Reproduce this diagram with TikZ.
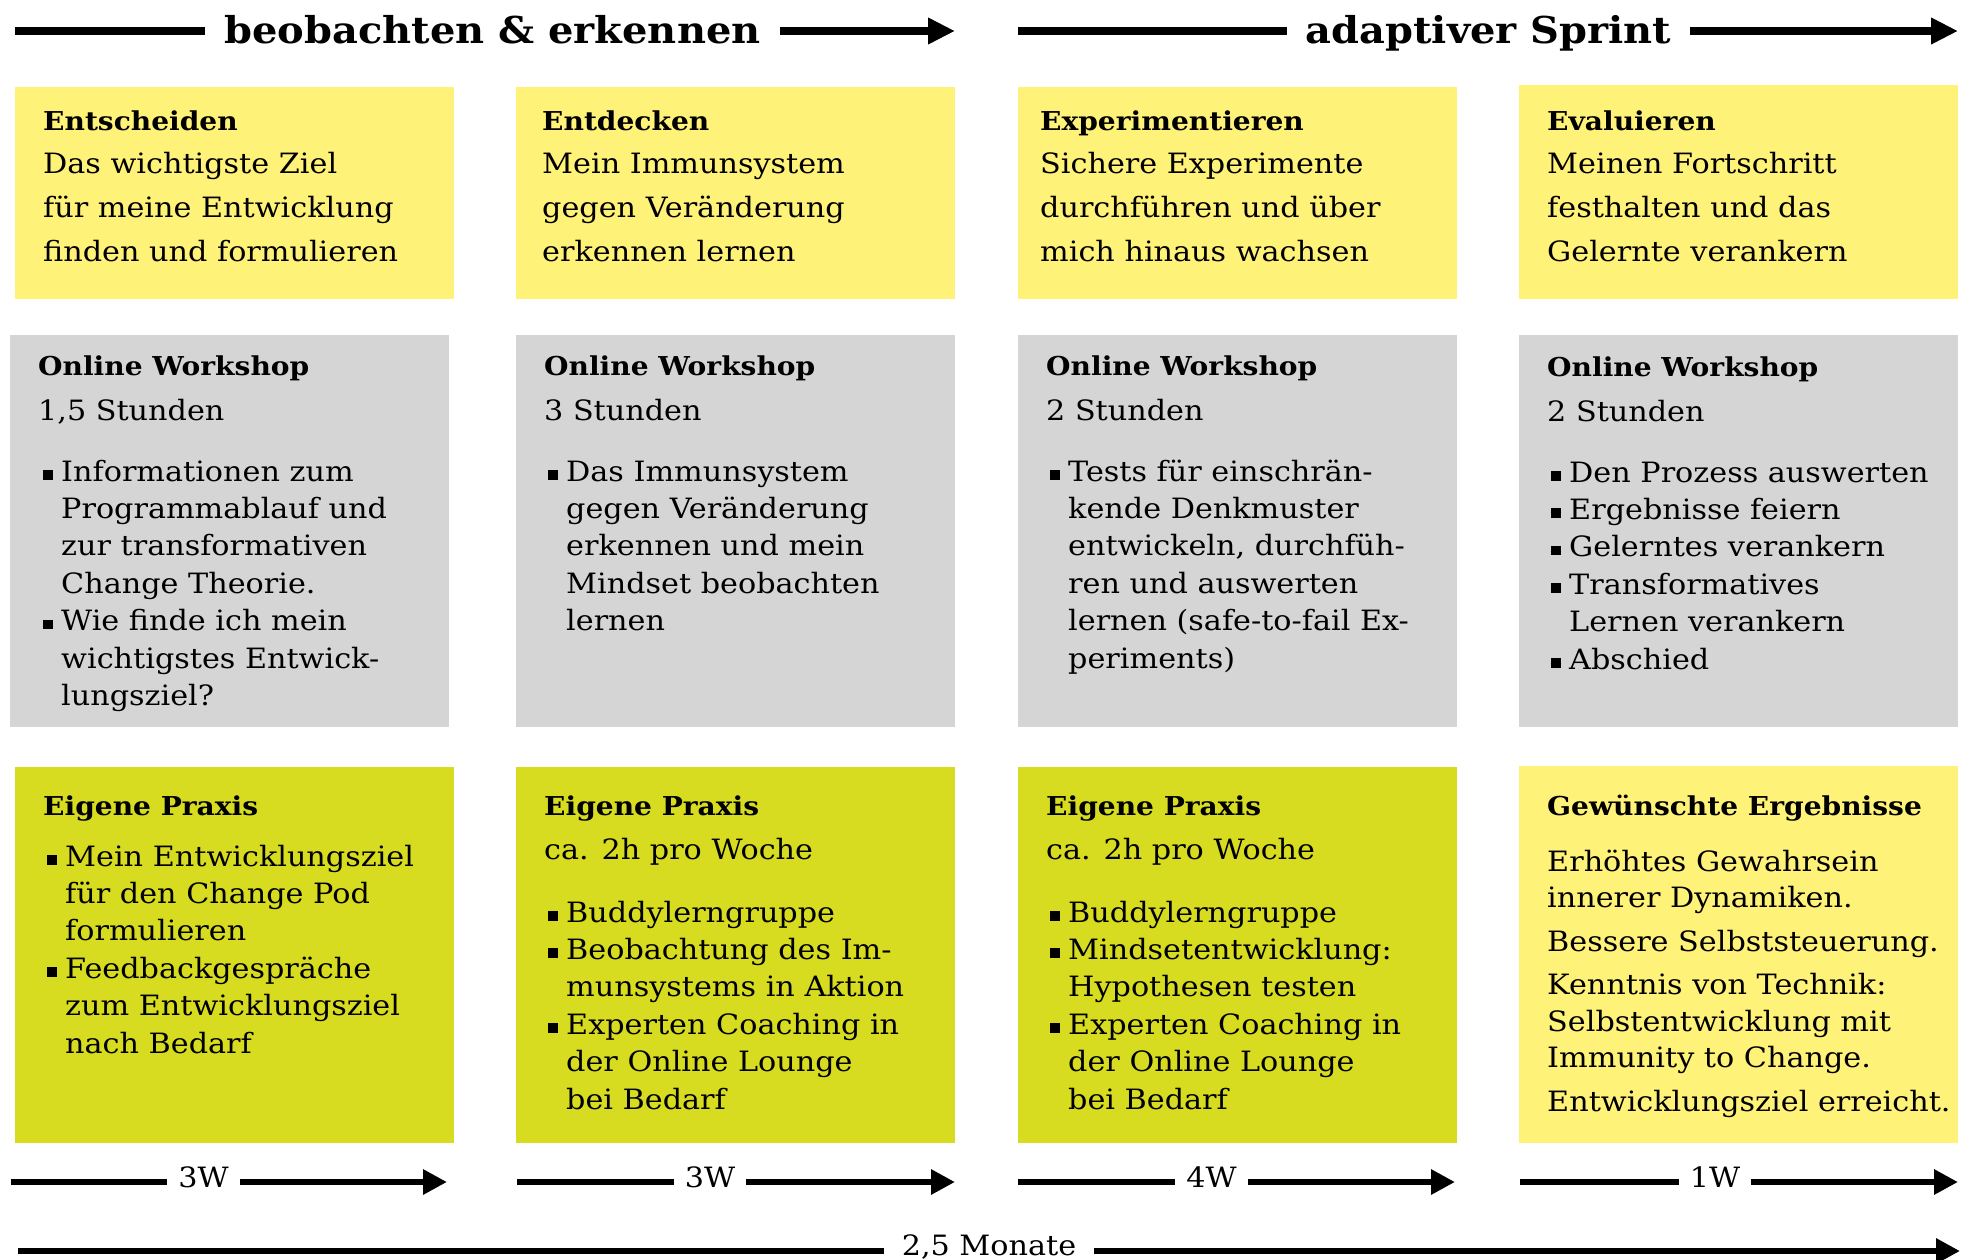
\documentclass[tikz,border=0pt]{standalone}
\usepackage{fontspec}
\setmainfont{DejaVu Serif}[FakeStretch=1.08]
\usetikzlibrary{arrows.meta}
\definecolor{ylight}{HTML}{FFF278}
\definecolor{gbox}{HTML}{D5D5D5}
\definecolor{gyel}{HTML}{D7DC20}
\newcommand\tblock[2]{\vtop{\baselineskip=#1\relax\lineskiplimit=-1000pt\lineskip=0pt\halign{##\hfil\cr#2\crcr}}}
\newcommand\bsq{\llap{\rule[1.5pt]{9.5pt}{9.5pt}\hspace{8.5pt}}}
\newcommand\hdf{\fontsize{26pt}{30pt}\selectfont\bfseries}
\begin{document}
\begin{tikzpicture}[x=1pt,y=-1pt,
  txt/.style={anchor=base west, inner sep=0pt, font=\fontsize{28pt}{37.4pt}\selectfont},
  hd/.style={anchor=base west, inner sep=0pt, font=\hdf},
  toph/.style={anchor=base, inner xsep=19pt, inner ysep=0pt, font=\fontsize{37pt}{40pt}\selectfont\bfseries},
  wk/.style={anchor=base, inner xsep=11pt, inner ysep=0pt, font=\fontsize{28pt}{32pt}\selectfont},
  bigline/.style={line width=8pt},
  bigarrow/.style={line width=8pt, -{Triangle[length=27pt,width=25pt]}},
  smline/.style={line width=6pt},
  smarrow/.style={line width=6pt, -{Triangle[length=24pt,width=24pt]}}]
\useasboundingbox (0,0) rectangle (1967,1259);

% ---------- boxes ----------
\fill[ylight] (15,87) rectangle (454,299);
\fill[ylight] (516,87) rectangle (955,299);
\fill[ylight] (1018,87) rectangle (1457,299);
\fill[ylight] (1519,85) rectangle (1958,299);
\fill[gbox] (10,335) rectangle (449,727);
\fill[gbox] (516,335) rectangle (955,727);
\fill[gbox] (1018,335) rectangle (1457,727);
\fill[gbox] (1519,335) rectangle (1958,727);
\fill[gyel] (15,767) rectangle (454,1143);
\fill[gyel] (516,767) rectangle (955,1143);
\fill[gyel] (1018,767) rectangle (1457,1143);
\fill[ylight] (1519,766) rectangle (1958,1143);

% ---------- top arrows ----------
\coordinate (t1s) at (15,31);
\coordinate (t1e) at (955,31);
\node[toph] (t1) at (492.5,43) {beobachten \& erkennen};
\draw[bigline] (t1s) -- (t1s -| t1.west);
\draw[bigarrow] (t1s -| t1.east) -- (t1e);
\coordinate (t2s) at (1018,31);
\coordinate (t2e) at (1958,31);
\node[toph] (t2) at (1488.5,43) {adaptiver Sprint};
\draw[bigline] (t2s) -- (t2s -| t2.west);
\draw[bigarrow] (t2s -| t2.east) -- (t2e);

% ---------- row 1 ----------
\node[txt] (r11) at (43,130) {\tblock{43.7pt}{{\hdf Entscheiden}\cr Das wichtigste Ziel\cr für meine Entwicklung\cr finden und formulieren}};
\node[txt] (r12) at (542,130) {\tblock{43.7pt}{{\hdf Entdecken}\cr Mein Immunsystem\cr gegen Veränderung\cr erkennen lernen}};
\node[txt] (r13) at (1040,130) {\tblock{43.7pt}{{\hdf Experimentieren}\cr Sichere Experimente\cr durchführen und über\cr mich hinaus wachsen}};
\node[txt] (r14) at (1547,130) {\tblock{43.7pt}{{\hdf Evaluieren}\cr Meinen Fortschritt\cr festhalten und das\cr Gelernte verankern}};

% ---------- row 2 ----------
\node[hd] (h21) at (38,375) {Online Workshop};
\node[txt] (s21) at (38,420) {1,5 Stunden};
\node[txt] (b21) at (61,481) {\tblock{37.4pt}{\bsq Informationen zum\cr Programmablauf und\cr zur transformativen\cr Change Theorie.\cr \bsq Wie finde ich mein\cr wichtigstes Entwick-\cr lungsziel?}};

\node[hd] (h22) at (544,375) {Online Workshop};
\node[txt] (s22) at (544,420) {3 Stunden};
\node[txt] (b22) at (566,481) {\tblock{37.4pt}{\bsq Das Immunsystem\cr gegen Veränderung\cr erkennen und mein\cr Mindset beobachten\cr lernen}};

\node[hd] (h23) at (1046,375) {Online Workshop};
\node[txt] (s23) at (1046,420) {2 Stunden};
\node[txt] (b23) at (1068,481) {\tblock{37.4pt}{\bsq Tests für einschrän-\cr kende Denkmuster\cr entwickeln, durchfüh-\cr ren und auswerten\cr lernen (safe-to-fail Ex-\cr periments)}};

\node[hd] (h24) at (1547,376) {Online Workshop};
\node[txt] (s24) at (1547,421) {2 Stunden};
\node[txt] (b24) at (1569,482) {\tblock{37.4pt}{\bsq Den Prozess auswerten\cr \bsq Ergebnisse feiern\cr \bsq Gelerntes verankern\cr \bsq Transformatives\cr Lernen verankern\cr \bsq Abschied}};

% ---------- row 3 ----------
\node[hd] (h31) at (43,815) {Eigene Praxis};
\node[txt] (b31) at (65,866) {\tblock{37.4pt}{\bsq Mein Entwicklungsziel\cr für den Change Pod\cr formulieren\cr \bsq Feedbackgespräche\cr zum Entwicklungsziel\cr nach Bedarf}};

\node[hd] (h32) at (544,815) {Eigene Praxis};
\node[txt] (s32) at (544,859) {ca. 2h pro Woche};
\node[txt] (b32) at (566,922) {\tblock{37.4pt}{\bsq Buddylerngruppe\cr \bsq Beobachtung des Im-\cr munsystems in Aktion\cr \bsq Experten Coaching in\cr der Online Lounge\cr bei Bedarf}};

\node[hd] (h33) at (1046,815) {Eigene Praxis};
\node[txt] (s33) at (1046,859) {ca. 2h pro Woche};
\node[txt] (b33) at (1068,922) {\tblock{37.4pt}{\bsq Buddylerngruppe\cr \bsq Mindsetentwicklung:\cr Hypothesen testen\cr \bsq Experten Coaching in\cr der Online Lounge\cr bei Bedarf}};

\node[hd] (h34) at (1547,815) {Gewünschte Ergebnisse};
\node[txt] (b34) at (1547,871) {\tblock{36.5pt}{Erhöhtes Gewahrsein\cr innerer Dynamiken.\cr\noalign{\vskip7pt} Bessere Selbststeuerung.\cr\noalign{\vskip7pt} Kenntnis von Technik:\cr Selbstentwicklung mit\cr Immunity to Change.\cr\noalign{\vskip7pt} Entwicklungsziel erreicht.}};

% ---------- bottom week arrows ----------
\coordinate (w1s) at (11,1182);  \coordinate (w1e) at (447,1182);
\node[wk] (w1) at (203.5,1187) {3W};
\draw[smline] (w1s) -- (w1s -| w1.west);
\draw[smarrow] (w1s -| w1.east) -- (w1e);
\coordinate (w2s) at (517,1182);  \coordinate (w2e) at (955,1182);
\node[wk] (w2) at (710,1187) {3W};
\draw[smline] (w2s) -- (w2s -| w2.west);
\draw[smarrow] (w2s -| w2.east) -- (w2e);
\coordinate (w3s) at (1018,1182); \coordinate (w3e) at (1455,1182);
\node[wk] (w3) at (1211.5,1187) {4W};
\draw[smline] (w3s) -- (w3s -| w3.west);
\draw[smarrow] (w3s -| w3.east) -- (w3e);
\coordinate (w4s) at (1520,1182); \coordinate (w4e) at (1958,1182);
\node[wk] (w4) at (1715,1187) {1W};
\draw[smline] (w4s) -- (w4s -| w4.west);
\draw[smarrow] (w4s -| w4.east) -- (w4e);

% ---------- total ----------
\coordinate (ms) at (18,1251); \coordinate (me) at (1960,1251);
\node[wk, inner xsep=18pt] (m) at (989,1255) {2,5 Monate};
\draw[smline] (ms) -- (ms -| m.west);
\draw[smarrow] (ms -| m.east) -- (me);
\end{tikzpicture}
\end{document}
